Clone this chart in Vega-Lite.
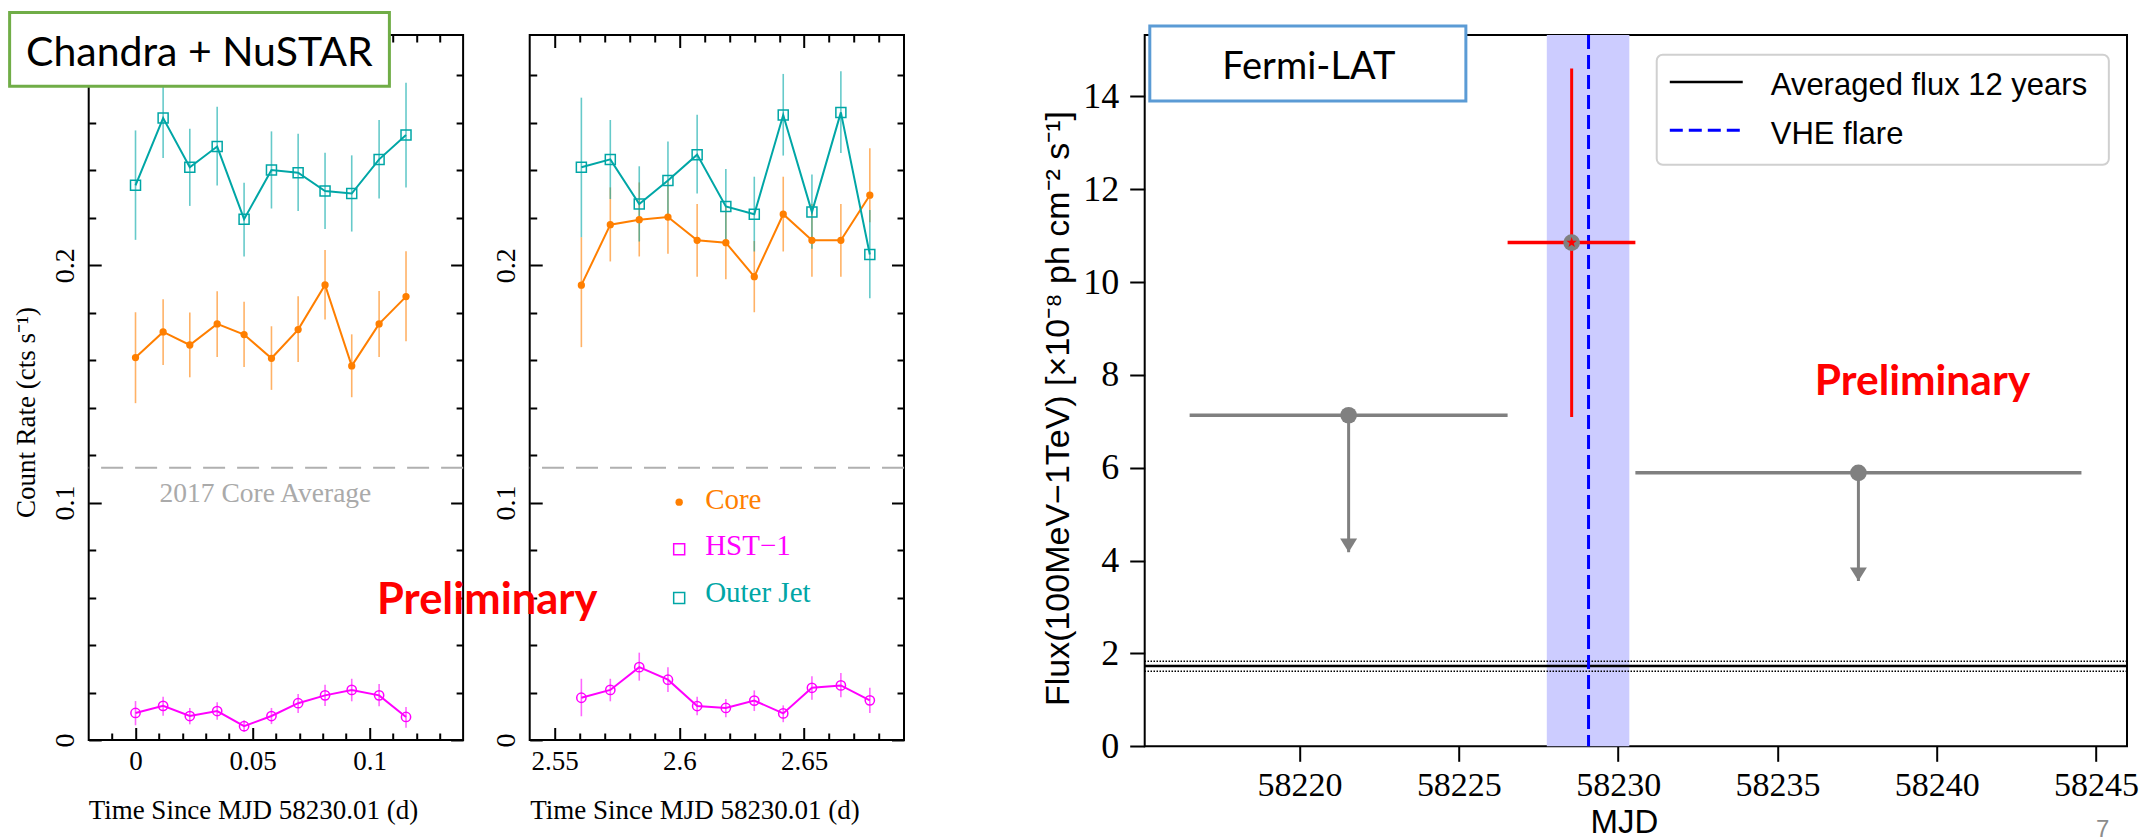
{
  "$schema": "https://vega.github.io/schema/vega-lite/v6.json",
  "padding": {"left": 6.71, "top": 9.0, "right": 0, "bottom": 0},
  "background": "white",
  "datasets": {
    "chandra": [
      {"panel": "A", "series": "Core", "t": 0, "rate": 0.1611, "lo": 0.1419, "hi": 0.1802},
      {"panel": "A", "series": "Core", "t": 0.0118, "rate": 0.1719, "lo": 0.158, "hi": 0.1857},
      {"panel": "A", "series": "Core", "t": 0.0232, "rate": 0.1664, "lo": 0.1528, "hi": 0.1801},
      {"panel": "A", "series": "Core", "t": 0.0349, "rate": 0.1753, "lo": 0.1613, "hi": 0.1891},
      {"panel": "A", "series": "Core", "t": 0.0464, "rate": 0.1708, "lo": 0.1571, "hi": 0.1846},
      {"panel": "A", "series": "Core", "t": 0.0581, "rate": 0.1608, "lo": 0.1475, "hi": 0.1743},
      {"panel": "A", "series": "Core", "t": 0.0695, "rate": 0.1729, "lo": 0.1592, "hi": 0.1869},
      {"panel": "A", "series": "Core", "t": 0.081, "rate": 0.1917, "lo": 0.1771, "hi": 0.2064},
      {"panel": "A", "series": "Core", "t": 0.0924, "rate": 0.1576, "lo": 0.1444, "hi": 0.1709},
      {"panel": "A", "series": "Core", "t": 0.1041, "rate": 0.1753, "lo": 0.1613, "hi": 0.1892},
      {"panel": "A", "series": "Core", "t": 0.1156, "rate": 0.1868, "lo": 0.168, "hi": 0.2059},
      {"panel": "A", "series": "HST−1", "t": 0, "rate": 0.0114, "lo": 0.0062, "hi": 0.0164},
      {"panel": "A", "series": "HST−1", "t": 0.0118, "rate": 0.0144, "lo": 0.0102, "hi": 0.0182},
      {"panel": "A", "series": "HST−1", "t": 0.0232, "rate": 0.0101, "lo": 0.0066, "hi": 0.0135},
      {"panel": "A", "series": "HST−1", "t": 0.0349, "rate": 0.0122, "lo": 0.0085, "hi": 0.0159},
      {"panel": "A", "series": "HST−1", "t": 0.0464, "rate": 0.0058, "lo": 0.0034, "hi": 0.0083},
      {"panel": "A", "series": "HST−1", "t": 0.0581, "rate": 0.0101, "lo": 0.0067, "hi": 0.0135},
      {"panel": "A", "series": "HST−1", "t": 0.0695, "rate": 0.0155, "lo": 0.0114, "hi": 0.0194},
      {"panel": "A", "series": "HST−1", "t": 0.081, "rate": 0.0188, "lo": 0.0143, "hi": 0.0233},
      {"panel": "A", "series": "HST−1", "t": 0.0924, "rate": 0.0211, "lo": 0.0163, "hi": 0.0258},
      {"panel": "A", "series": "HST−1", "t": 0.1041, "rate": 0.0188, "lo": 0.0142, "hi": 0.0236},
      {"panel": "A", "series": "HST−1", "t": 0.1156, "rate": 0.0097, "lo": 0.0052, "hi": 0.0139},
      {"panel": "A", "series": "Outer Jet", "t": 0, "rate": 0.2337, "lo": 0.2107, "hi": 0.2568},
      {"panel": "A", "series": "Outer Jet", "t": 0.0118, "rate": 0.262, "lo": 0.2452, "hi": 0.279},
      {"panel": "A", "series": "Outer Jet", "t": 0.0232, "rate": 0.2413, "lo": 0.225, "hi": 0.2575},
      {"panel": "A", "series": "Outer Jet", "t": 0.0349, "rate": 0.25, "lo": 0.2336, "hi": 0.2668},
      {"panel": "A", "series": "Outer Jet", "t": 0.0464, "rate": 0.2194, "lo": 0.2037, "hi": 0.2348},
      {"panel": "A", "series": "Outer Jet", "t": 0.0581, "rate": 0.2401, "lo": 0.2239, "hi": 0.2564},
      {"panel": "A", "series": "Outer Jet", "t": 0.0695, "rate": 0.239, "lo": 0.2229, "hi": 0.2554},
      {"panel": "A", "series": "Outer Jet", "t": 0.081, "rate": 0.2313, "lo": 0.2153, "hi": 0.2474},
      {"panel": "A", "series": "Outer Jet", "t": 0.0924, "rate": 0.2302, "lo": 0.2142, "hi": 0.2463},
      {"panel": "A", "series": "Outer Jet", "t": 0.1041, "rate": 0.2446, "lo": 0.2281, "hi": 0.2612},
      {"panel": "A", "series": "Outer Jet", "t": 0.1156, "rate": 0.2549, "lo": 0.2328, "hi": 0.2769},
      {"panel": "B", "series": "Core", "t": 2.5607, "rate": 0.1916, "lo": 0.1655, "hi": 0.2118},
      {"panel": "B", "series": "Core", "t": 2.5723, "rate": 0.2171, "lo": 0.2016, "hi": 0.2328},
      {"panel": "B", "series": "Core", "t": 2.5839, "rate": 0.2192, "lo": 0.2037, "hi": 0.2349},
      {"panel": "B", "series": "Core", "t": 2.5954, "rate": 0.2203, "lo": 0.2048, "hi": 0.2357},
      {"panel": "B", "series": "Core", "t": 2.6071, "rate": 0.2105, "lo": 0.1952, "hi": 0.2258},
      {"panel": "B", "series": "Core", "t": 2.6186, "rate": 0.2095, "lo": 0.1941, "hi": 0.2248},
      {"panel": "B", "series": "Core", "t": 2.63, "rate": 0.1952, "lo": 0.1802, "hi": 0.2102},
      {"panel": "B", "series": "Core", "t": 2.6416, "rate": 0.2215, "lo": 0.2058, "hi": 0.2373},
      {"panel": "B", "series": "Core", "t": 2.6531, "rate": 0.2105, "lo": 0.1952, "hi": 0.2258},
      {"panel": "B", "series": "Core", "t": 2.6647, "rate": 0.2105, "lo": 0.1952, "hi": 0.2258},
      {"panel": "B", "series": "Core", "t": 2.6763, "rate": 0.2295, "lo": 0.2181, "hi": 0.2493},
      {"panel": "B", "series": "HST−1", "t": 2.5607, "rate": 0.0178, "lo": 0.01, "hi": 0.0258},
      {"panel": "B", "series": "HST−1", "t": 2.5723, "rate": 0.0211, "lo": 0.0163, "hi": 0.0258},
      {"panel": "B", "series": "HST−1", "t": 2.5839, "rate": 0.0307, "lo": 0.025, "hi": 0.0368},
      {"panel": "B", "series": "HST−1", "t": 2.5954, "rate": 0.0254, "lo": 0.0202, "hi": 0.0306},
      {"panel": "B", "series": "HST−1", "t": 2.6071, "rate": 0.0143, "lo": 0.0104, "hi": 0.0182},
      {"panel": "B", "series": "HST−1", "t": 2.6186, "rate": 0.0135, "lo": 0.0096, "hi": 0.0173},
      {"panel": "B", "series": "HST−1", "t": 2.63, "rate": 0.0166, "lo": 0.0122, "hi": 0.0209},
      {"panel": "B", "series": "HST−1", "t": 2.6416, "rate": 0.0112, "lo": 0.0075, "hi": 0.0146},
      {"panel": "B", "series": "HST−1", "t": 2.6531, "rate": 0.022, "lo": 0.017, "hi": 0.0269},
      {"panel": "B", "series": "HST−1", "t": 2.6647, "rate": 0.023, "lo": 0.018, "hi": 0.0282},
      {"panel": "B", "series": "HST−1", "t": 2.6763, "rate": 0.0167, "lo": 0.0114, "hi": 0.022},
      {"panel": "B", "series": "Outer Jet", "t": 2.5607, "rate": 0.2413, "lo": 0.2118, "hi": 0.2706},
      {"panel": "B", "series": "Outer Jet", "t": 2.5723, "rate": 0.2446, "lo": 0.2279, "hi": 0.2612},
      {"panel": "B", "series": "Outer Jet", "t": 2.5839, "rate": 0.2258, "lo": 0.21, "hi": 0.2417},
      {"panel": "B", "series": "Outer Jet", "t": 2.5954, "rate": 0.2357, "lo": 0.2209, "hi": 0.2521},
      {"panel": "B", "series": "Outer Jet", "t": 2.6071, "rate": 0.2466, "lo": 0.2302, "hi": 0.2634},
      {"panel": "B", "series": "Outer Jet", "t": 2.6186, "rate": 0.2248, "lo": 0.2081, "hi": 0.2406},
      {"panel": "B", "series": "Outer Jet", "t": 2.63, "rate": 0.2215, "lo": 0.2058, "hi": 0.2373},
      {"panel": "B", "series": "Outer Jet", "t": 2.6416, "rate": 0.2633, "lo": 0.2462, "hi": 0.2806},
      {"panel": "B", "series": "Outer Jet", "t": 2.6531, "rate": 0.2224, "lo": 0.2069, "hi": 0.2382},
      {"panel": "B", "series": "Outer Jet", "t": 2.6647, "rate": 0.2644, "lo": 0.2473, "hi": 0.2817},
      {"panel": "B", "series": "Outer Jet", "t": 2.6763, "rate": 0.2045, "lo": 0.1861, "hi": 0.2233}
    ],
    "fermi": [
      {"kind": "UL", "mjd": 58221.54, "mjd_lo": 58216.55, "mjd_hi": 58226.53, "flux": 7.13, "flux_lo": 4.18, "flux_hi": 7.13},
      {"kind": "UL", "mjd": 58237.54, "mjd_lo": 58230.54, "mjd_hi": 58244.54, "flux": 5.89, "flux_lo": 3.56, "flux_hi": 5.89},
      {"kind": "detection", "mjd": 58228.54, "mjd_lo": 58226.53, "mjd_hi": 58230.54, "flux": 10.85, "flux_lo": 7.09, "flux_hi": 14.6}
    ],
    "avg": [
      {"level": "mean", "flux": 1.729},
      {"level": "upper", "flux": 1.832},
      {"level": "lower", "flux": 1.617}
    ],
    "vhe": [
      {"flare_mjd": 58229.07, "start": 58227.76, "end": 58230.35}
    ]
  },
  "hconcat": [
    {
      "width": 374.4,
      "height": 705,
      "data": {"name": "chandra"},
      "layer": [
        {
          "data": {"values": [{"rate": 0.1147}]},
          "mark": {"type": "rule", "color": "#b0b0b0", "strokeWidth": 2, "strokeDash": [22, 12]},
          "encoding": {"y": {"field": "rate", "type": "quantitative", "scale": {"domain": [0, 0.297], "nice": false, "zero": false}, "axis": null}}
        },
        {
          "data": {"values": [{}]},
          "mark": {"type": "text", "text": "2017 Core Average", "align": "left", "baseline": "alphabetic", "font": "Liberation Serif", "fontSize": 27.5, "color": "#aaaaaa"},
          "encoding": {
            "x": {"datum": 0.0103, "type": "quantitative", "scale": {"domain": [-0.02, 0.14], "nice": false, "zero": false}, "axis": null},
            "y": {"datum": 0.1002, "type": "quantitative", "scale": {"domain": [0, 0.297], "nice": false, "zero": false}, "axis": null}
          }
        },
        {
          "transform": [{"filter": "datum.panel == 'A'"}],
          "mark": {"type": "rule", "strokeWidth": 1.6, "opacity": 0.6},
          "encoding": {
            "x": {"field": "t", "type": "quantitative", "scale": {"domain": [-0.02, 0.14], "nice": false, "zero": false},
                  "axis": {"orient": "top", "values": [0, 0.05, 0.1], "labels": false, "tickSize": 12.5, "offset": -12.5, "title": null}},
            "y": {"field": "lo", "type": "quantitative", "scale": {"domain": [0, 0.297], "nice": false, "zero": false},
                  "axis": {"orient": "right", "values": [0, 0.1, 0.2], "labels": false, "tickSize": 12.5, "offset": -12.5, "title": null}},
            "y2": {"field": "hi"},
            "color": {"field": "series", "type": "nominal", "scale": {"domain": ["Core", "HST−1", "Outer Jet"], "range": ["#ff7f00", "#ff00ff", "#00a6a6"]}, "legend": null}
          }
        },
        {
          "transform": [{"filter": "datum.panel == 'A'"}],
          "mark": {"type": "line", "strokeWidth": 2},
          "encoding": {
            "x": {"field": "t", "type": "quantitative", "scale": {"domain": [-0.02, 0.14], "nice": false, "zero": false},
                  "axis": {"orient": "bottom", "values": [0, 0.05, 0.1], "format": "~g", "ticks": true, "tickSize": 12.5, "offset": -12.5,
                           "labelFont": "Liberation Serif", "labelFontSize": 27, "labelBaseline": "alphabetic", "labelPadding": 29.7,
                           "title": "Time Since MJD 58230.01 (d)", "titleFont": "Liberation Serif", "titleFontSize": 27,
                           "titleX": 164.2, "titleY": 91.2, "titleBaseline": "alphabetic", "titleAlign": "center", "titleAngle": 0}},
            "y": {"field": "rate", "type": "quantitative", "scale": {"domain": [0, 0.297], "nice": false, "zero": false},
                  "axis": {"orient": "left", "values": [0, 0.1, 0.2], "format": "~g", "ticks": true, "tickSize": 12.5, "offset": -12.5,
                           "labelFont": "Liberation Serif", "labelFontSize": 28, "labelAngle": 270, "labelAlign": "center", "labelBaseline": "alphabetic", "labelPadding": 15.6,
                           "title": "Count Rate (cts s⁻¹)", "titleFont": "Liberation Serif", "titleFontSize": 27,
                           "titleX": -66.8, "titleY": 377, "titleAngle": 270, "titleBaseline": "alphabetic", "titleAlign": "center"}},
            "color": {"field": "series", "type": "nominal", "scale": {"domain": ["Core", "HST−1", "Outer Jet"], "range": ["#ff7f00", "#ff00ff", "#00a6a6"]}, "legend": null}
          }
        },
        {
          "transform": [{"filter": "datum.panel == 'A' && datum.series == 'Core'"}],
          "mark": {"type": "point", "shape": "circle", "filled": true, "size": 53, "opacity": 1, "color": "#ff7f00"},
          "encoding": {
            "x": {"field": "t", "type": "quantitative", "scale": {"domain": [-0.02, 0.14], "nice": false, "zero": false}, "axis": null},
            "y": {"field": "rate", "type": "quantitative", "scale": {"domain": [0, 0.297], "nice": false, "zero": false}, "axis": null}
          }
        },
        {
          "transform": [{"filter": "datum.panel == 'A' && datum.series == 'HST−1'"}],
          "mark": {"type": "point", "shape": "circle", "filled": false, "size": 86, "strokeWidth": 1.5, "opacity": 1, "color": "#ff00ff"},
          "encoding": {
            "x": {"field": "t", "type": "quantitative", "scale": {"domain": [-0.02, 0.14], "nice": false, "zero": false},
                  "axis": {"orient": "bottom", "values": [-0.01, 0.01, 0.02, 0.03, 0.04, 0.06, 0.07, 0.08, 0.09, 0.11, 0.12, 0.13], "labels": false, "tickSize": 7, "offset": -7, "title": null}},
            "y": {"field": "rate", "type": "quantitative", "scale": {"domain": [0, 0.297], "nice": false, "zero": false},
                  "axis": {"orient": "left", "values": [0.02, 0.04, 0.06, 0.08, 0.12, 0.14, 0.16, 0.18, 0.22, 0.24, 0.26, 0.28], "labels": false, "tickSize": 7, "offset": -7, "title": null}}
          }
        },
        {
          "transform": [{"filter": "datum.panel == 'A' && datum.series == 'Outer Jet'"}],
          "mark": {"type": "point", "shape": "square", "filled": false, "size": 100, "strokeWidth": 1.5, "opacity": 1, "color": "#00a6a6"},
          "encoding": {
            "x": {"field": "t", "type": "quantitative", "scale": {"domain": [-0.02, 0.14], "nice": false, "zero": false},
                  "axis": {"orient": "top", "values": [-0.01, 0.01, 0.02, 0.03, 0.04, 0.06, 0.07, 0.08, 0.09, 0.11, 0.12, 0.13], "labels": false, "tickSize": 7, "offset": -7, "title": null}},
            "y": {"field": "rate", "type": "quantitative", "scale": {"domain": [0, 0.297], "nice": false, "zero": false},
                  "axis": {"orient": "right", "values": [0.02, 0.04, 0.06, 0.08, 0.12, 0.14, 0.16, 0.18, 0.22, 0.24, 0.26, 0.28], "labels": false, "tickSize": 7, "offset": -7, "title": null}}
          }
        },
        {
          "data": {"values": [{}]},
          "mark": {"type": "rect", "fill": "white", "stroke": "#70ad47", "strokeWidth": 3},
          "encoding": {
            "x": {"datum": -0.0538, "type": "quantitative", "scale": {"domain": [-0.02, 0.14], "nice": false, "zero": false}, "axis": null},
            "x2": {"datum": 0.1085},
            "y": {"datum": 0.3065, "type": "quantitative", "scale": {"domain": [0, 0.297], "nice": false, "zero": false}, "axis": null},
            "y2": {"datum": 0.2754}
          }
        },
        {
          "data": {"values": [{}]},
          "mark": {"type": "text", "text": "Chandra + NuSTAR", "align": "center", "baseline": "alphabetic", "font": "Lato", "fontSize": 41, "color": "black"},
          "encoding": {
            "x": {"datum": 0.0273, "type": "quantitative", "scale": {"domain": [-0.02, 0.14], "nice": false, "zero": false}, "axis": null},
            "y": {"datum": 0.2841, "type": "quantitative", "scale": {"domain": [0, 0.297], "nice": false, "zero": false}, "axis": null}
          }
        }
      ],
      "resolve": {"axis": {"x": "independent", "y": "independent"}}
    },
    {
      "width": 374.3,
      "height": 705,
      "data": {"name": "chandra"},
      "layer": [
        {
          "data": {"values": [{"rate": 0.1147}]},
          "mark": {"type": "rule", "color": "#b0b0b0", "strokeWidth": 2, "strokeDash": [22, 12]},
          "encoding": {"y": {"field": "rate", "type": "quantitative", "scale": {"domain": [0, 0.297], "nice": false, "zero": false}, "axis": null}}
        },
        {
          "transform": [{"filter": "datum.panel == 'B'"}],
          "mark": {"type": "rule", "strokeWidth": 1.6, "opacity": 0.6},
          "encoding": {
            "x": {"field": "t", "type": "quantitative", "scale": {"domain": [2.54, 2.69], "nice": false, "zero": false},
                  "axis": {"orient": "top", "values": [2.55, 2.6, 2.65], "labels": false, "tickSize": 12.5, "offset": -12.5, "title": null}},
            "y": {"field": "lo", "type": "quantitative", "scale": {"domain": [0, 0.297], "nice": false, "zero": false},
                  "axis": {"orient": "right", "values": [0, 0.1, 0.2], "labels": false, "tickSize": 12.5, "offset": -12.5, "title": null}},
            "y2": {"field": "hi"},
            "color": {"field": "series", "type": "nominal", "scale": {"domain": ["Core", "HST−1", "Outer Jet"], "range": ["#ff7f00", "#ff00ff", "#00a6a6"]}, "legend": null}
          }
        },
        {
          "transform": [{"filter": "datum.panel == 'B'"}],
          "mark": {"type": "line", "strokeWidth": 2},
          "encoding": {
            "x": {"field": "t", "type": "quantitative", "scale": {"domain": [2.54, 2.69], "nice": false, "zero": false},
                  "axis": {"orient": "bottom", "values": [2.55, 2.6, 2.65], "format": "~g", "ticks": true, "tickSize": 12.5, "offset": -12.5,
                           "labelFont": "Liberation Serif", "labelFontSize": 27, "labelBaseline": "alphabetic", "labelPadding": 29.7,
                           "title": "Time Since MJD 58230.01 (d)", "titleFont": "Liberation Serif", "titleFontSize": 27,
                           "titleX": 164.8, "titleY": 91.2, "titleBaseline": "alphabetic", "titleAlign": "center", "titleAngle": 0}},
            "y": {"field": "rate", "type": "quantitative", "scale": {"domain": [0, 0.297], "nice": false, "zero": false},
                  "axis": {"orient": "left", "values": [0, 0.1, 0.2], "format": "~g", "ticks": true, "tickSize": 12.5, "offset": -12.5,
                           "labelFont": "Liberation Serif", "labelFontSize": 28, "labelAngle": 270, "labelAlign": "center", "labelBaseline": "alphabetic", "labelPadding": 15.6,
                           "title": null}},
            "color": {"field": "series", "type": "nominal", "scale": {"domain": ["Core", "HST−1", "Outer Jet"], "range": ["#ff7f00", "#ff00ff", "#00a6a6"]}, "legend": null}
          }
        },
        {
          "transform": [{"filter": "datum.panel == 'B' && datum.series == 'Core'"}],
          "mark": {"type": "point", "shape": "circle", "filled": true, "size": 53, "opacity": 1, "color": "#ff7f00"},
          "encoding": {
            "x": {"field": "t", "type": "quantitative", "scale": {"domain": [2.54, 2.69], "nice": false, "zero": false}, "axis": null},
            "y": {"field": "rate", "type": "quantitative", "scale": {"domain": [0, 0.297], "nice": false, "zero": false}, "axis": null}
          }
        },
        {
          "transform": [{"filter": "datum.panel == 'B' && datum.series == 'HST−1'"}],
          "mark": {"type": "point", "shape": "circle", "filled": false, "size": 86, "strokeWidth": 1.5, "opacity": 1, "color": "#ff00ff"},
          "encoding": {
            "x": {"field": "t", "type": "quantitative", "scale": {"domain": [2.54, 2.69], "nice": false, "zero": false},
                  "axis": {"orient": "bottom", "values": [2.56, 2.57, 2.58, 2.59, 2.61, 2.62, 2.63, 2.64, 2.66, 2.67, 2.68], "labels": false, "tickSize": 7, "offset": -7, "title": null}},
            "y": {"field": "rate", "type": "quantitative", "scale": {"domain": [0, 0.297], "nice": false, "zero": false},
                  "axis": {"orient": "left", "values": [0.02, 0.04, 0.06, 0.08, 0.12, 0.14, 0.16, 0.18, 0.22, 0.24, 0.26, 0.28], "labels": false, "tickSize": 7, "offset": -7, "title": null}}
          }
        },
        {
          "transform": [{"filter": "datum.panel == 'B' && datum.series == 'Outer Jet'"}],
          "mark": {"type": "point", "shape": "square", "filled": false, "size": 100, "strokeWidth": 1.5, "opacity": 1, "color": "#00a6a6"},
          "encoding": {
            "x": {"field": "t", "type": "quantitative", "scale": {"domain": [2.54, 2.69], "nice": false, "zero": false},
                  "axis": {"orient": "top", "values": [2.56, 2.57, 2.58, 2.59, 2.61, 2.62, 2.63, 2.64, 2.66, 2.67, 2.68], "labels": false, "tickSize": 7, "offset": -7, "title": null}},
            "y": {"field": "rate", "type": "quantitative", "scale": {"domain": [0, 0.297], "nice": false, "zero": false},
                  "axis": {"orient": "right", "values": [0.02, 0.04, 0.06, 0.08, 0.12, 0.14, 0.16, 0.18, 0.22, 0.24, 0.26, 0.28], "labels": false, "tickSize": 7, "offset": -7, "title": null}}
          }
        },
        {
          "data": {"values": [{}]},
          "mark": {"type": "point", "shape": "circle", "filled": true, "size": 55, "opacity": 1, "color": "#ff7f00"},
          "encoding": {
            "x": {"datum": 2.5999, "type": "quantitative", "scale": {"domain": [2.54, 2.69], "nice": false, "zero": false}, "axis": null},
            "y": {"datum": 0.1002, "type": "quantitative", "scale": {"domain": [0, 0.297], "nice": false, "zero": false}, "axis": null}
          }
        },
        {
          "data": {"values": [{}]},
          "mark": {"type": "text", "text": "Core", "align": "left", "baseline": "alphabetic", "font": "Liberation Serif", "fontSize": 29, "color": "#ff7f00"},
          "encoding": {
            "x": {"datum": 2.6103, "type": "quantitative", "scale": {"domain": [2.54, 2.69], "nice": false, "zero": false}, "axis": null},
            "y": {"datum": 0.0974, "type": "quantitative", "scale": {"domain": [0, 0.297], "nice": false, "zero": false}, "axis": null}
          }
        },
        {
          "data": {"values": [{}]},
          "mark": {"type": "point", "shape": "square", "filled": false, "size": 121, "strokeWidth": 1.5, "opacity": 1, "color": "#ff00ff"},
          "encoding": {
            "x": {"datum": 2.5999, "type": "quantitative", "scale": {"domain": [2.54, 2.69], "nice": false, "zero": false}, "axis": null},
            "y": {"datum": 0.0804, "type": "quantitative", "scale": {"domain": [0, 0.297], "nice": false, "zero": false}, "axis": null}
          }
        },
        {
          "data": {"values": [{}]},
          "mark": {"type": "text", "text": "HST−1", "align": "left", "baseline": "alphabetic", "font": "Liberation Serif", "fontSize": 29, "color": "#ff00ff"},
          "encoding": {
            "x": {"datum": 2.6103, "type": "quantitative", "scale": {"domain": [2.54, 2.69], "nice": false, "zero": false}, "axis": null},
            "y": {"datum": 0.0778, "type": "quantitative", "scale": {"domain": [0, 0.297], "nice": false, "zero": false}, "axis": null}
          }
        },
        {
          "data": {"values": [{}]},
          "mark": {"type": "point", "shape": "square", "filled": false, "size": 121, "strokeWidth": 1.5, "opacity": 1, "color": "#00a6a6"},
          "encoding": {
            "x": {"datum": 2.5999, "type": "quantitative", "scale": {"domain": [2.54, 2.69], "nice": false, "zero": false}, "axis": null},
            "y": {"datum": 0.0598, "type": "quantitative", "scale": {"domain": [0, 0.297], "nice": false, "zero": false}, "axis": null}
          }
        },
        {
          "data": {"values": [{}]},
          "mark": {"type": "text", "text": "Outer Jet", "align": "left", "baseline": "alphabetic", "font": "Liberation Serif", "fontSize": 29, "color": "#00a6a6"},
          "encoding": {
            "x": {"datum": 2.6103, "type": "quantitative", "scale": {"domain": [2.54, 2.69], "nice": false, "zero": false}, "axis": null},
            "y": {"datum": 0.0581, "type": "quantitative", "scale": {"domain": [0, 0.297], "nice": false, "zero": false}, "axis": null}
          }
        },
        {
          "data": {"values": [{}]},
          "mark": {"type": "text", "text": "Preliminary", "align": "left", "baseline": "alphabetic", "font": "Lato", "fontWeight": "bold", "fontSize": 43.5, "color": "#ff0000"},
          "encoding": {
            "x": {"datum": 2.4788, "type": "quantitative", "scale": {"domain": [2.54, 2.69], "nice": false, "zero": false}, "axis": null},
            "y": {"datum": 0.0531, "type": "quantitative", "scale": {"domain": [0, 0.297], "nice": false, "zero": false}, "axis": null}
          }
        }
      ],
      "resolve": {"axis": {"x": "independent", "y": "independent"}}
    },
    {
      "width": 107.7,
      "height": 10,
      "data": {"values": [{"blank": ""}]},
      "mark": {"type": "text", "text": " "},
      "encoding": {},
      "view": {"stroke": null}
    },
    {
      "width": 982.3,
      "height": 711.3,
      "layer": [
        {
          "data": {"name": "vhe"},
          "mark": {"type": "rect", "color": "#ccccff", "opacity": 1},
          "encoding": {
            "x": {"field": "start", "type": "quantitative", "scale": {"domain": [58215.14, 58245.97], "nice": false, "zero": false}, "axis": null},
            "x2": {"field": "end"}
          }
        },
        {
          "data": {"name": "avg"},
          "transform": [{"filter": "datum.level != 'mean'"}],
          "mark": {"type": "rule", "color": "black", "strokeWidth": 1.5, "strokeDash": [1.5, 1.5]},
          "encoding": {"y": {"field": "flux", "type": "quantitative", "scale": {"domain": [0, 15.32], "nice": false, "zero": false}, "axis": null}}
        },
        {
          "data": {"name": "avg"},
          "transform": [{"filter": "datum.level == 'mean'"}],
          "mark": {"type": "rule", "color": "black", "strokeWidth": 2.5},
          "encoding": {"y": {"field": "flux", "type": "quantitative", "scale": {"domain": [0, 15.32], "nice": false, "zero": false}, "axis": null}}
        },
        {
          "data": {"name": "vhe"},
          "mark": {"type": "rule", "color": "#0000ff", "strokeWidth": 3, "strokeDash": [14, 6]},
          "encoding": {"x": {"field": "flare_mjd", "type": "quantitative", "scale": {"domain": [58215.14, 58245.97], "nice": false, "zero": false}, "axis": null}}
        },
        {
          "data": {"name": "fermi"},
          "mark": {"type": "rule", "strokeWidth": 3.5},
          "encoding": {
            "x": {"field": "mjd_lo", "type": "quantitative", "scale": {"domain": [58215.14, 58245.97], "nice": false, "zero": false},
                  "axis": {"orient": "bottom", "values": [58220, 58225, 58230, 58235, 58240, 58245], "format": "~g", "tickSize": 15, "tickWidth": 2,
                           "labelFont": "Liberation Serif", "labelFontSize": 34, "labelBaseline": "alphabetic", "labelPadding": 34,
                           "title": "MJD", "titleFont": "Liberation Sans", "titleFontSize": 33, "titleX": 479.3, "titleY": 86,
                           "titleBaseline": "alphabetic", "titleAlign": "center", "titleAngle": 0}},
            "x2": {"field": "mjd_hi"},
            "y": {"field": "flux", "type": "quantitative", "scale": {"domain": [0, 15.32], "nice": false, "zero": false},
                  "axis": {"orient": "left", "values": [0, 2, 4, 6, 8, 10, 12, 14], "format": "~g", "tickSize": 15, "tickWidth": 2,
                           "labelFont": "Liberation Serif", "labelFontSize": 36, "labelAlign": "right", "labelBaseline": "middle", "labelPadding": 11,
                           "title": "Flux(100MeV−1TeV) [×10⁻⁸ ph cm⁻² s⁻¹]", "titleFont": "Liberation Sans", "titleFontSize": 34,
                           "titleX": -76, "titleY": 373, "titleAngle": 270, "titleBaseline": "alphabetic", "titleAlign": "center"}},
            "color": {"field": "kind", "type": "nominal", "scale": {"domain": ["UL", "detection"], "range": ["#808080", "#ff0000"]}, "legend": null}
          }
        },
        {
          "data": {"name": "fermi"},
          "mark": {"type": "rule", "strokeWidth": 3},
          "encoding": {
            "x": {"field": "mjd", "type": "quantitative", "scale": {"domain": [58215.14, 58245.97], "nice": false, "zero": false}, "axis": null},
            "y": {"field": "flux_lo", "type": "quantitative", "scale": {"domain": [0, 15.32], "nice": false, "zero": false}, "axis": null},
            "y2": {"field": "flux_hi"},
            "color": {"field": "kind", "type": "nominal", "scale": {"domain": ["UL", "detection"], "range": ["#808080", "#ff0000"]}, "legend": null}
          }
        },
        {
          "data": {"name": "fermi"},
          "transform": [{"filter": "datum.kind == 'UL'"}],
          "mark": {"type": "point", "shape": "M-1,-1.6L1,-1.6L0,0Z", "filled": true, "size": 289, "opacity": 1, "color": "#808080"},
          "encoding": {
            "x": {"field": "mjd", "type": "quantitative", "scale": {"domain": [58215.14, 58245.97], "nice": false, "zero": false}, "axis": null},
            "y": {"field": "flux_lo", "type": "quantitative", "scale": {"domain": [0, 15.32], "nice": false, "zero": false}, "axis": null}
          }
        },
        {
          "data": {"name": "fermi"},
          "mark": {"type": "point", "shape": "circle", "filled": true, "size": 279, "opacity": 1, "color": "#808080"},
          "encoding": {
            "x": {"field": "mjd", "type": "quantitative", "scale": {"domain": [58215.14, 58245.97], "nice": false, "zero": false}, "axis": null},
            "y": {"field": "flux", "type": "quantitative", "scale": {"domain": [0, 15.32], "nice": false, "zero": false}, "axis": null}
          }
        },
        {
          "data": {"name": "fermi"},
          "transform": [{"filter": "datum.kind == 'detection'"}],
          "mark": {"type": "point", "shape": "M0,-1L0.235,-0.324L0.951,-0.309L0.38,0.124L0.588,0.809L0,0.4L-0.588,0.809L-0.38,0.124L-0.951,-0.309L-0.235,-0.324Z", "filled": true, "size": 121, "opacity": 1, "color": "#ff0000"},
          "encoding": {
            "x": {"field": "mjd", "type": "quantitative", "scale": {"domain": [58215.14, 58245.97], "nice": false, "zero": false}, "axis": null},
            "y": {"field": "flux", "type": "quantitative", "scale": {"domain": [0, 15.32], "nice": false, "zero": false}, "axis": null}
          }
        },
        {
          "data": {"values": [{}]},
          "mark": {"type": "rect", "fill": "white", "stroke": "#5b9bd5", "strokeWidth": 3},
          "encoding": {
            "x": {"datum": 58215.3, "type": "quantitative", "scale": {"domain": [58215.14, 58245.97], "nice": false, "zero": false}, "axis": null},
            "x2": {"datum": 58225.22},
            "y": {"datum": 15.514, "type": "quantitative", "scale": {"domain": [0, 15.32], "nice": false, "zero": false}, "axis": null},
            "y2": {"datum": 13.899}
          }
        },
        {
          "data": {"values": [{}]},
          "mark": {"type": "text", "text": "Fermi-LAT", "align": "center", "baseline": "alphabetic", "font": "Lato", "fontSize": 38, "color": "black"},
          "encoding": {
            "x": {"datum": 58220.29, "type": "quantitative", "scale": {"domain": [58215.14, 58245.97], "nice": false, "zero": false}, "axis": null},
            "y": {"datum": 14.379, "type": "quantitative", "scale": {"domain": [0, 15.32], "nice": false, "zero": false}, "axis": null}
          }
        },
        {
          "data": {"values": [{}]},
          "mark": {"type": "rect", "fill": "white", "stroke": "#d0d0d0", "strokeWidth": 2, "cornerRadius": 6},
          "encoding": {
            "x": {"datum": 58231.21, "type": "quantitative", "scale": {"domain": [58215.14, 58245.97], "nice": false, "zero": false}, "axis": null},
            "x2": {"datum": 58245.4},
            "y": {"datum": 14.896, "type": "quantitative", "scale": {"domain": [0, 15.32], "nice": false, "zero": false}, "axis": null},
            "y2": {"datum": 12.527}
          }
        },
        {
          "data": {"values": [{}]},
          "mark": {"type": "rule", "color": "black", "strokeWidth": 2.5},
          "encoding": {
            "x": {"datum": 58231.62, "type": "quantitative", "scale": {"domain": [58215.14, 58245.97], "nice": false, "zero": false}, "axis": null},
            "x2": {"datum": 58233.91},
            "y": {"datum": 14.308, "type": "quantitative", "scale": {"domain": [0, 15.32], "nice": false, "zero": false}, "axis": null}
          }
        },
        {
          "data": {"values": [{}]},
          "mark": {"type": "rule", "color": "#0000ff", "strokeWidth": 3, "strokeDash": [13, 6]},
          "encoding": {
            "x": {"datum": 58231.62, "type": "quantitative", "scale": {"domain": [58215.14, 58245.97], "nice": false, "zero": false}, "axis": null},
            "x2": {"datum": 58233.91},
            "y": {"datum": 13.268, "type": "quantitative", "scale": {"domain": [0, 15.32], "nice": false, "zero": false}, "axis": null}
          }
        },
        {
          "data": {"values": [{}]},
          "mark": {"type": "text", "text": "Averaged flux 12 years", "align": "left", "baseline": "alphabetic", "font": "Liberation Sans", "fontSize": 31, "color": "black"},
          "encoding": {
            "x": {"datum": 58234.79, "type": "quantitative", "scale": {"domain": [58215.14, 58245.97], "nice": false, "zero": false}, "axis": null},
            "y": {"datum": 14.034, "type": "quantitative", "scale": {"domain": [0, 15.32], "nice": false, "zero": false}, "axis": null}
          }
        },
        {
          "data": {"values": [{}]},
          "mark": {"type": "text", "text": "VHE flare", "align": "left", "baseline": "alphabetic", "font": "Liberation Sans", "fontSize": 31, "color": "black"},
          "encoding": {
            "x": {"datum": 58234.79, "type": "quantitative", "scale": {"domain": [58215.14, 58245.97], "nice": false, "zero": false}, "axis": null},
            "y": {"datum": 12.979, "type": "quantitative", "scale": {"domain": [0, 15.32], "nice": false, "zero": false}, "axis": null}
          }
        },
        {
          "data": {"values": [{}]},
          "mark": {"type": "text", "text": "Preliminary", "align": "left", "baseline": "alphabetic", "font": "Lato", "fontWeight": "bold", "fontSize": 42.5, "color": "#ff0000"},
          "encoding": {
            "x": {"datum": 58236.17, "type": "quantitative", "scale": {"domain": [58215.14, 58245.97], "nice": false, "zero": false}, "axis": null},
            "y": {"datum": 7.57, "type": "quantitative", "scale": {"domain": [0, 15.32], "nice": false, "zero": false}, "axis": null}
          }
        },
        {
          "data": {"values": [{}]},
          "mark": {"type": "text", "text": "7", "align": "center", "baseline": "alphabetic", "font": "Liberation Sans", "fontSize": 24, "color": "#8c8c8c"},
          "encoding": {
            "x": {"datum": 58245.21, "type": "quantitative", "scale": {"domain": [58215.14, 58245.97], "nice": false, "zero": false}, "axis": null},
            "y": {"datum": -1.95, "type": "quantitative", "scale": {"domain": [0, 15.32], "nice": false, "zero": false}, "axis": null}
          }
        }
      ],
      "resolve": {"axis": {"x": "independent", "y": "independent"}}
    }
  ],
  "spacing": 66,
  "bounds": "flush",
  "resolve": {"scale": {"color": "independent"}},
  "config": {
    "view": {"stroke": "black", "strokeWidth": 2},
    "axis": {
      "grid": false,
      "domain": false,
      "labelFlush": false,
      "labelOverlap": false,
      "labelBound": false,
      "tickColor": "black",
      "tickWidth": 2,
      "labelColor": "black",
      "titleColor": "black",
      "titleFontWeight": "normal",
      "labelFontWeight": "normal"
    }
  }
}
